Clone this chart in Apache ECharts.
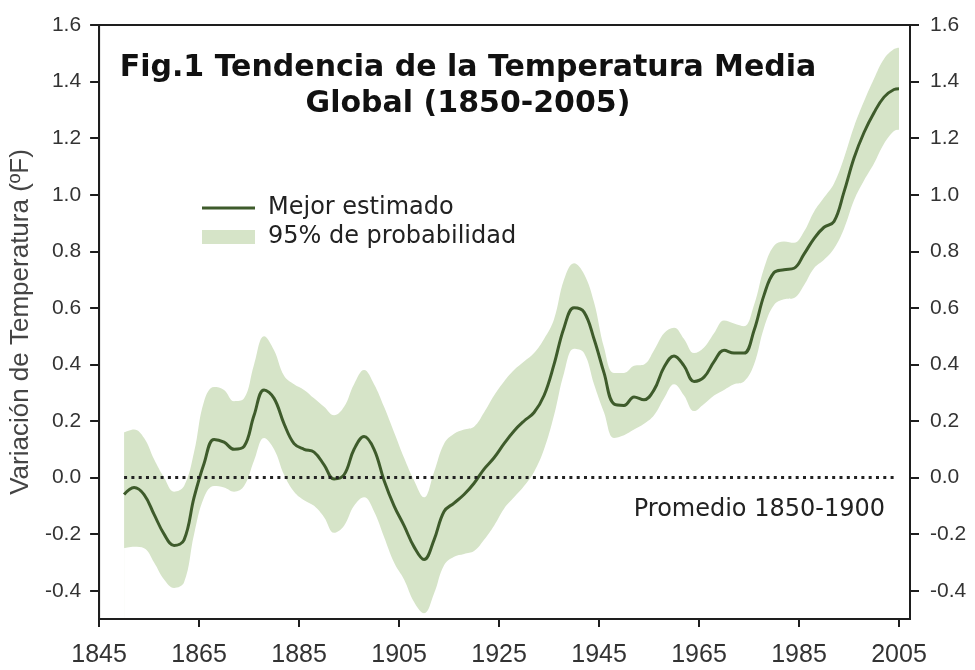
<!DOCTYPE html>
<html><head><meta charset="utf-8">
<script src="https://cdn.jsdelivr.net/npm/echarts@6/dist/echarts.min.js"></script>
<style>html,body{margin:0;padding:0;background:#fff}#c{width:975px;height:670px}</style>
</head><body><div id="c"></div>
<script>
const years = [1850,1852,1854,1856,1858,1860,1862,1864,1866,1868,
  1870,1872,1874,1876,1878,1880,1882,1884,1886,1888,
  1890,1892,1894,1896,1898,1900,1902,1904,1906,1908,
  1910,1912,1914,1916,1918,1920,1922,1924,1926,1928,
  1930,1932,1934,1936,1938,1940,1942,1944,1946,1948,
  1950,1952,1954,1956,1958,1960,1962,1964,1966,1968,
  1970,1972,1974,1976,1978,1980,1982,1984,1986,1988,
  1990,1992,1994,1996,1998,2000,2002,2004,2005];
const best = [-0.06,-0.035,-0.06,-0.13,-0.20,-0.24,-0.22,-0.07,0.05,0.135,
  0.125,0.10,0.11,0.22,0.31,0.28,0.19,0.12,0.10,0.09,
  0.045,-0.005,0.01,0.10,0.145,0.10,-0.01,-0.10,-0.17,-0.245,
  -0.29,-0.22,-0.12,-0.09,-0.06,-0.02,0.03,0.07,0.12,0.165,
  0.20,0.23,0.29,0.40,0.53,0.60,0.585,0.49,0.37,0.26,
  0.255,0.285,0.275,0.31,0.39,0.43,0.395,0.34,0.355,0.41,
  0.45,0.44,0.44,0.52,0.645,0.725,0.735,0.74,0.79,0.845,
  0.885,0.905,1.01,1.13,1.22,1.29,1.345,1.372,1.375];
const lower = [-0.25,-0.245,-0.25,-0.30,-0.36,-0.39,-0.37,-0.20,-0.07,-0.03,
  -0.035,-0.05,-0.03,0.06,0.14,0.10,0.01,-0.05,-0.08,-0.10,
  -0.14,-0.195,-0.17,-0.10,-0.07,-0.12,-0.21,-0.30,-0.36,-0.44,
  -0.48,-0.41,-0.31,-0.28,-0.27,-0.26,-0.22,-0.17,-0.11,-0.07,
  -0.03,0.02,0.10,0.22,0.37,0.455,0.44,0.33,0.23,0.14,
  0.15,0.17,0.19,0.22,0.28,0.33,0.29,0.235,0.26,0.29,
  0.31,0.33,0.34,0.40,0.53,0.61,0.63,0.635,0.68,0.74,
  0.77,0.81,0.88,0.98,1.05,1.11,1.18,1.225,1.23];
const upper = [0.16,0.17,0.14,0.065,0.0,-0.05,-0.03,0.09,0.27,0.32,
  0.31,0.27,0.28,0.40,0.50,0.45,0.36,0.33,0.31,0.28,
  0.25,0.22,0.25,0.33,0.38,0.33,0.25,0.16,0.07,-0.01,
  -0.07,0.02,0.12,0.155,0.17,0.18,0.23,0.29,0.34,0.38,
  0.41,0.44,0.49,0.56,0.70,0.758,0.72,0.62,0.46,0.37,
  0.37,0.395,0.40,0.45,0.51,0.53,0.49,0.44,0.46,0.51,
  0.555,0.545,0.535,0.61,0.74,0.82,0.835,0.83,0.87,0.94,
  0.99,1.04,1.13,1.24,1.33,1.41,1.48,1.515,1.52];
const xTicks = [1845,1865,1885,1905,1925,1945,1965,1985,2005];
const yTicks = [-0.4,-0.2,0,0.2,0.4,0.6,0.8,1.0,1.2,1.4,1.6];
const baselineValue = 0;
const baselineRange = [1850, 2004];
const baselineText = 'Promedio 1850-1900';

const lineColor = '#3e5b2b';
const bandColor = '#d6e4c8';
const axisColor = '#1e1e1e';
const labelColor = '#333';
const sans = 'Liberation Sans, Arial, sans-serif';
const verd = 'DejaVu Sans, Verdana, sans-serif';

const chart = echarts.init(document.getElementById('c'), null, {renderer:'canvas'});
const yAxisBase = {
  type:'value', min:-0.5, max:1.6,
  axisLine:{show:true, onZero:false, lineStyle:{color:axisColor, width:2}},
  axisTick:{show:true, inside:false, length:9, customValues:yTicks, lineStyle:{color:axisColor, width:2}},
  axisLabel:{customValues:yTicks, formatter:v=>v.toFixed(1), fontFamily:sans, fontSize:21, color:labelColor},
  splitLine:{show:false}
};
chart.setOption({
  animation:false,
  backgroundColor:'#fff',
  title:{
    text:'Fig.1 Tendencia de la Temperatura Media\nGlobal (1850-2005)',
    left:463, top:45, textAlign:'center',
    textStyle:{fontFamily:verd, fontWeight:'bold', fontSize:30, lineHeight:36, color:'#111'}
  },
  legend:{
    left:197, top:191, orient:'vertical', itemWidth:53, itemHeight:14, itemGap:5,
    data:[{name:'Mejor estimado', icon:'path://M0,0L53,0L53,3L0,3Z'},{name:'95% de probabilidad', icon:'rect'}],
    textStyle:{fontFamily:verd, fontSize:24, color:'#222', lineHeight:24, padding:[0,0,0,8]}
  },
  grid:{left:99, right:65, top:25, bottom:51, show:true, borderColor:axisColor, borderWidth:2, backgroundColor:'transparent'},
  xAxis:{
    type:'value', min:1845, max:2007.2, z:5,
    axisLine:{show:true, onZero:false, lineStyle:{color:axisColor, width:2}},
    axisTick:{show:true, length:8, customValues:xTicks, lineStyle:{color:axisColor, width:2}},
    axisLabel:{customValues:xTicks, formatter:v=>String(v), fontFamily:sans, fontSize:25, color:labelColor, margin:24},
    splitLine:{show:false}
  },
  yAxis:[
    Object.assign({}, yAxisBase, {
      position:'left', z:5,
      name:'Variación de Temperatura (ºF)', nameLocation:'middle', nameGap:63,
      nameTextStyle:{fontFamily:sans, fontSize:26, color:'#444'},
      axisLabel:Object.assign({}, yAxisBase.axisLabel, {margin:18})
    }),
    Object.assign({}, yAxisBase, {
      position:'right', z:5,
      axisLabel:Object.assign({}, yAxisBase.axisLabel, {margin:20})
    })
  ],
  series:[
    {
      name:'95% de probabilidad', type:'line', z:1,
      data:years.map((y,i)=>[y, upper[i]]),
      smooth:0.4, symbol:'none', color:bandColor,
      lineStyle:{width:0, color:bandColor},
      areaStyle:{color:bandColor, opacity:1, origin:'start'}
    },
    {
      name:'limite inferior', type:'line', z:2,
      data:years.map((y,i)=>[y, lower[i]]),
      smooth:0.4, symbol:'none', color:'#fff',
      lineStyle:{width:0, color:'#fff'},
      areaStyle:{color:'#fff', opacity:1, origin:'start'}
    },
    {
      name:'Mejor estimado', type:'line', z:3,
      data:years.map((y,i)=>[y, best[i]]),
      smooth:0.4, symbol:'none', color:lineColor,
      lineStyle:{width:3, color:lineColor},
      markLine:{
        silent:true, symbol:['none','none'],
        lineStyle:{type:[3,4.3], color:'#222', width:3},
        label:{show:false},
        data:[[{coord:[baselineRange[0], baselineValue]},{coord:[baselineRange[1], baselineValue]}]]
      }
    }
  ]
});
const endPx = chart.convertToPixel({gridIndex:0}, [baselineRange[1], baselineValue]);
chart.setOption({
  graphic:[{
    type:'text', x:endPx[0] - 9, y:endPx[1] + 32, z:10,
    style:{text:baselineText, fontFamily:verd, fontSize:24, fill:'#222', align:'right', verticalAlign:'middle'}
  }]
});
</script></body></html>
